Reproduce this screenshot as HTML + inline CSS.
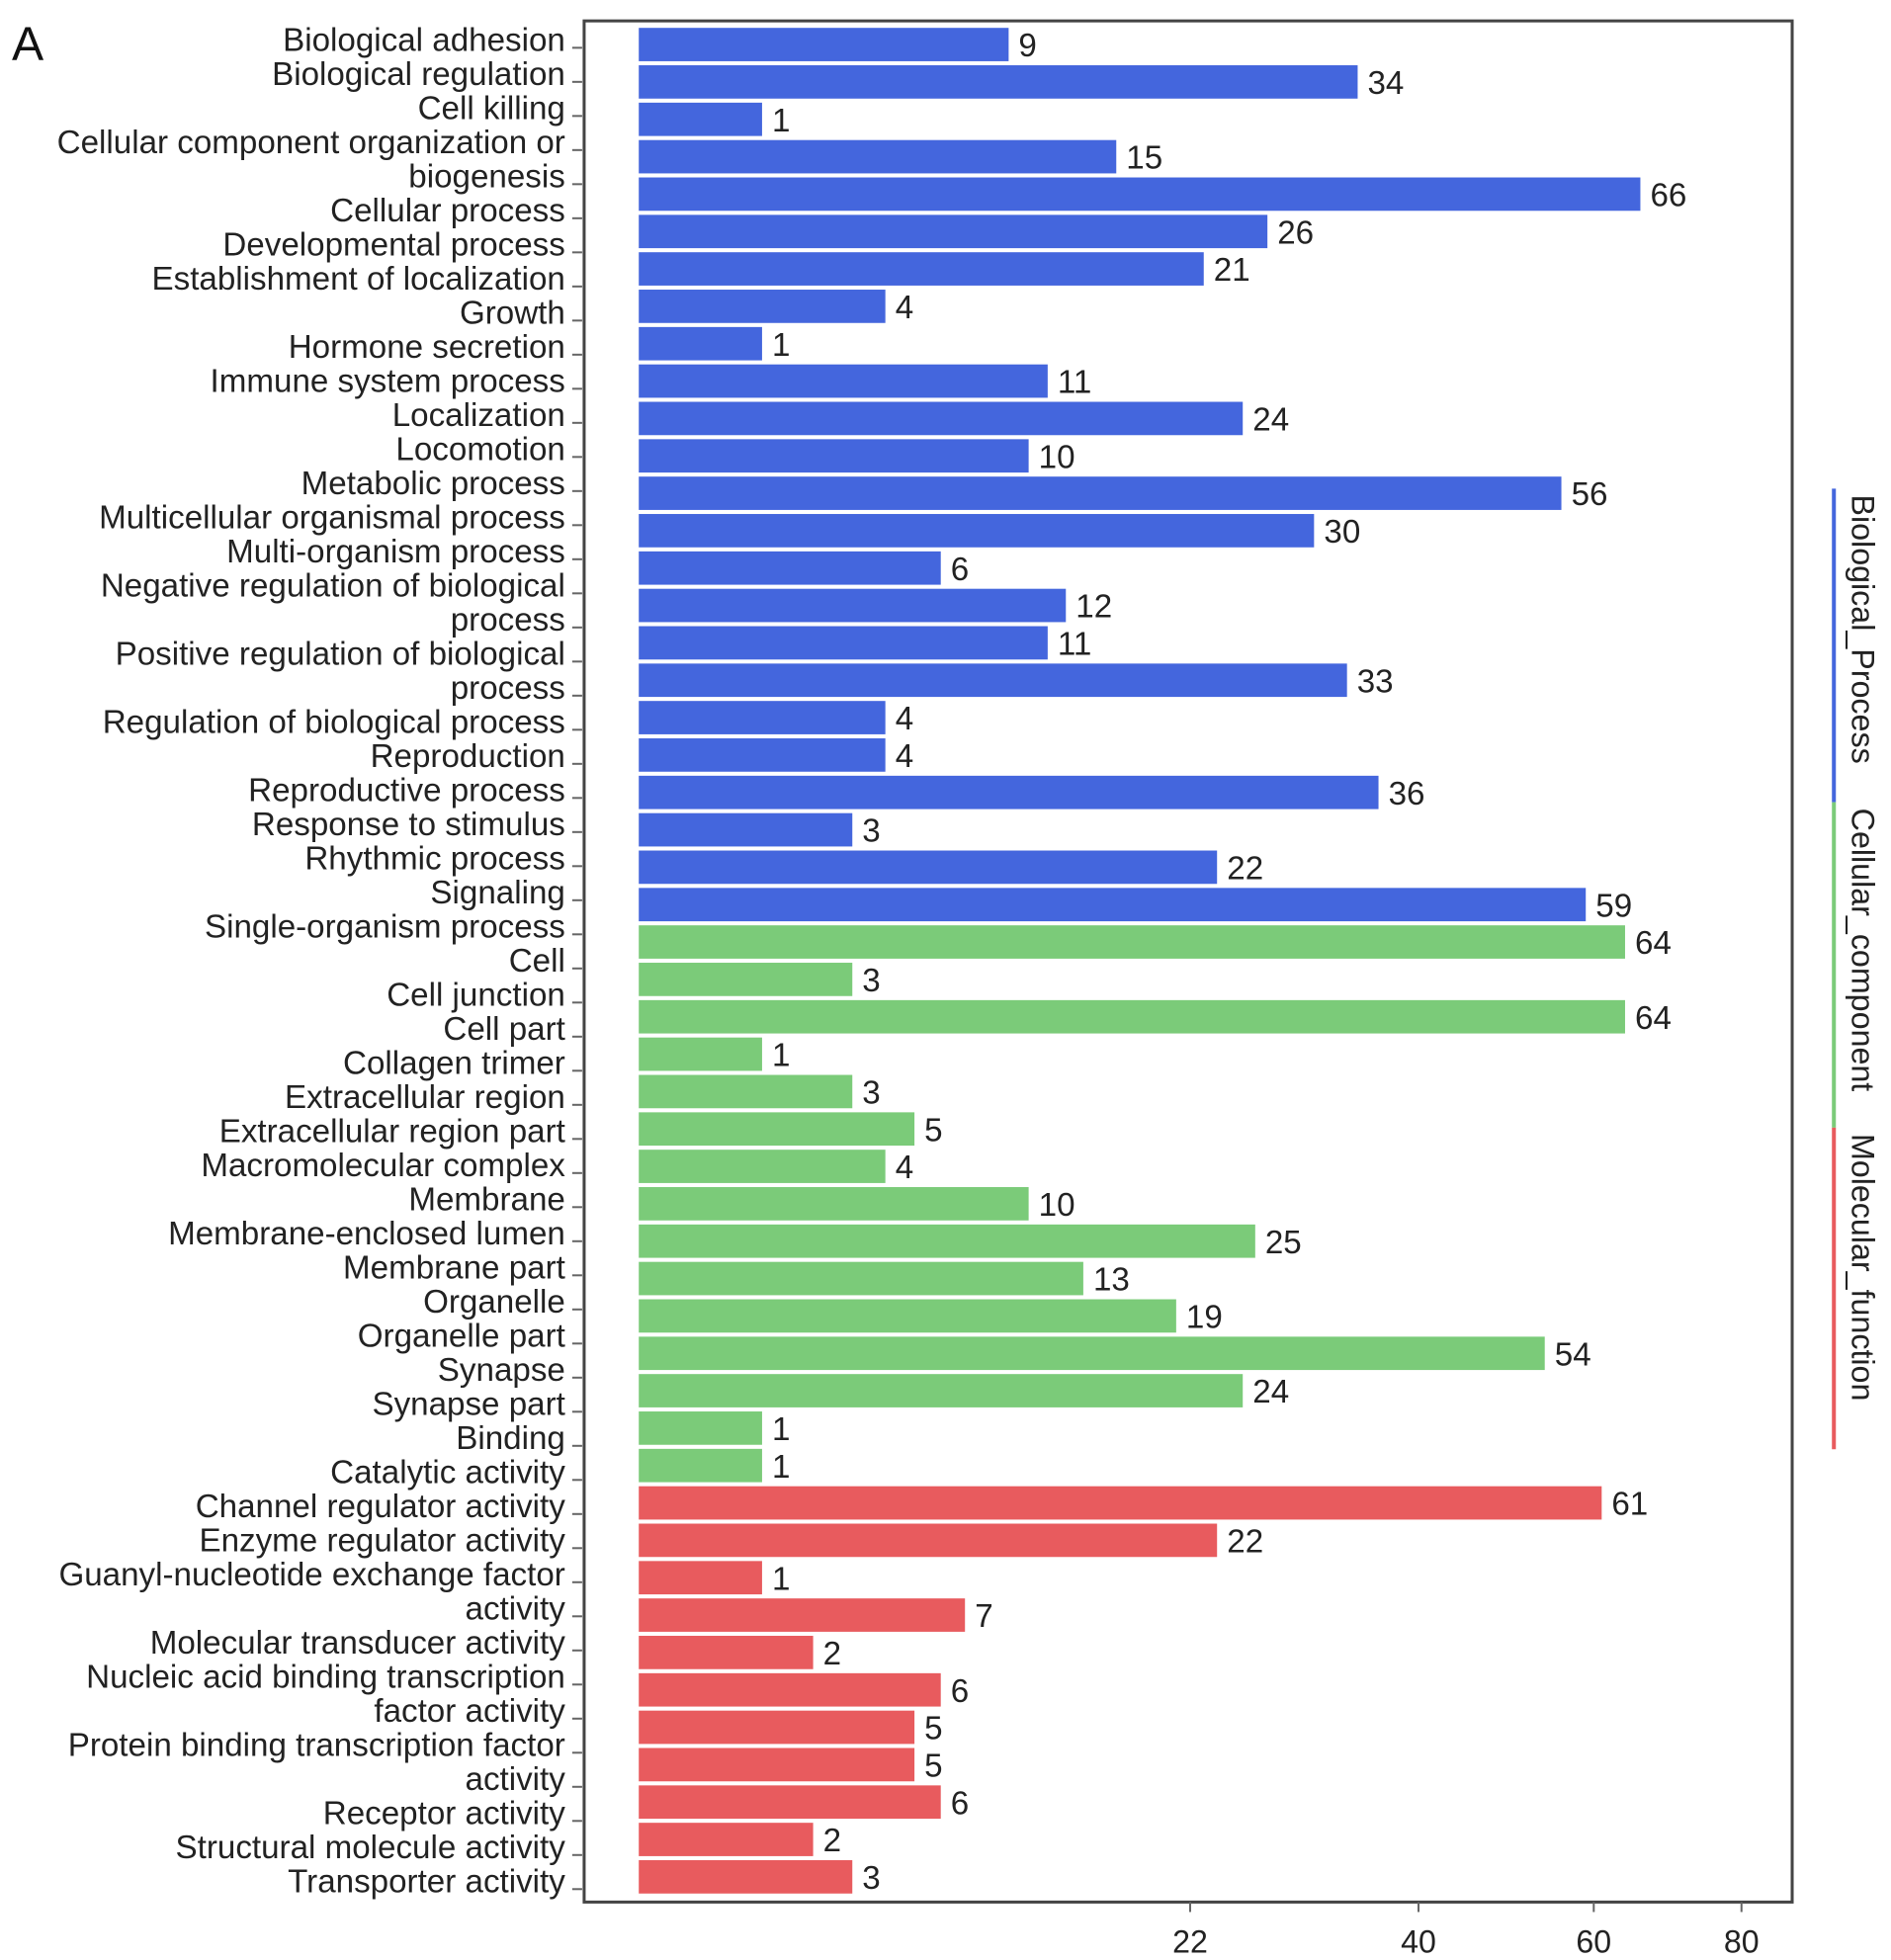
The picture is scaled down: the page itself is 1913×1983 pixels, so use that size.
<!DOCTYPE html>
<html><head><meta charset="utf-8"><style>
html,body{margin:0;padding:0;background:#fff;}
svg{display:block;font-family:"Liberation Sans",Arial,sans-serif;}
</style></head><body>
<svg id="chart" width="1913" height="1983" viewBox="0 0 1913 1983" xmlns="http://www.w3.org/2000/svg">
<g transform="scale(1.005,1.007)">
<text x="12" y="60" font-size="48" fill="#111">A</text>
<g id="labels"></g>
<g id="bars"></g>
<g id="axis"></g>
<g id="strip"></g>
</g>
</svg>
<script>
const yLabels = ["Biological adhesion","Biological regulation","Cell killing","Cellular component organization or","biogenesis","Cellular process","Developmental process","Establishment of localization","Growth","Hormone secretion","Immune system process","Localization","Locomotion","Metabolic process","Multicellular organismal process","Multi-organism process","Negative regulation of biological","process","Positive regulation of biological","process","Regulation of biological process","Reproduction","Reproductive process","Response to stimulus","Rhythmic process","Signaling","Single-organism process","Cell","Cell junction","Cell part","Collagen trimer","Extracellular region","Extracellular region part","Macromolecular complex","Membrane","Membrane-enclosed lumen","Membrane part","Organelle","Organelle part","Synapse","Synapse part","Binding","Catalytic activity","Channel regulator activity","Enzyme regulator activity","Guanyl-nucleotide exchange factor","activity","Molecular transducer activity","Nucleic acid binding transcription","factor activity","Protein binding transcription factor","activity","Receptor activity","Structural molecule activity","Transporter activity"];
const bpValues = [9,34,1,15,66,26,21,4,1,11,24,10,56,30,6,12,11,33,4,4,36,3,22,59];
const ccValues = [64,3,64,1,3,5,4,10,25,13,19,54,24,1,1];
const mfValues = [61,22,1,7,2,6,5,5,6,2,3];
const tickValues = [20,40,60,80];
const tickLabels = ["22","40","60","80"];
const groupNames = ["Biological_Process","Cellular_component","Molecular_function"];

const NS="http://www.w3.org/2000/svg";
function mk(tag,attrs,parent){const e=document.createElementNS(NS,tag);for(const k in attrs)e.setAttribute(k,attrs[k]);parent.appendChild(e);return e;}
const X0=643, XB=124.1;
function xScale(v){return X0+XB*Math.sqrt(v);}
const BAR_TOP=28, PITCH=37.57, BAR_H=33.5;
function yBar(i){return BAR_TOP+i*PITCH;}
const PL=588, PT=21, PR=1804, PB=1911;

const gL=document.getElementById('labels'), gB=document.getElementById('bars'), gA=document.getElementById('axis'), gS=document.getElementById('strip');

const panel=mk('rect',{x:PL,y:PT,width:PR-PL,height:PB-PT,fill:'none',stroke:'#444','stroke-width':3},gA);



const LY0=40, LY1=1890, LP=(LY1-LY0)/(yLabels.length-1);
yLabels.forEach((t,i)=>{
  const y=LY0+i*LP;
  const tx=mk('text',{x:569,y:y+11,'font-size':33,'text-anchor':'end',fill:'#222'},gL);
  tx.textContent=t;
  
  
  const tk=mk('line',{x1:576,x2:586,y1:y+8,y2:y+8,stroke:'#666','stroke-width':2},gL);
  
  
});

const groups=[{vals:bpValues,color:'#4466DD'},{vals:ccValues,color:'#7BCB79'},{vals:mfValues,color:'#E85B5E'}];
let idx=0;
groups.forEach((g,gi)=>{
  g.vals.forEach(v=>{
    const y=yBar(idx);
    const r=mk('rect',{x:X0,y:y,width:xScale(v)-X0,height:BAR_H,fill:g.color},gB);
    
    
    const t=mk('text',{x:xScale(v)+10,y:y+BAR_H/2+12,'font-size':33,fill:'#222'},gB);
    t.textContent=String(v);
    
    
    idx++;
  });
});

tickValues.forEach((v,i)=>{
  const x=xScale(v);
  const l=mk('line',{x1:x,x2:x,y1:PB,y2:PB+10,stroke:'#666','stroke-width':2},gA);
  
  
  const t=mk('text',{x:x,y:1962,'font-size':32,'text-anchor':'middle',fill:'#222'},gA);
  t.textContent=tickLabels[i];
  
  
});

const segs=[[491,806,'#4466DD'],[806,1133,'#7BCB79'],[1133,1456,'#E85B5E']];
segs.forEach((s,i)=>{
  const l=mk('line',{x1:1846,x2:1846,y1:s[0],y2:s[1],stroke:s[2],'stroke-width':4},gS);
  
  
  const t=mk('text',{x:1864,y:s[0]+6,'font-size':32,fill:'#222',transform:'rotate(90 1864 '+(s[0]+6)+')'},gS);
  t.textContent=groupNames[i];
  
  
});
</script>
</body></html>
